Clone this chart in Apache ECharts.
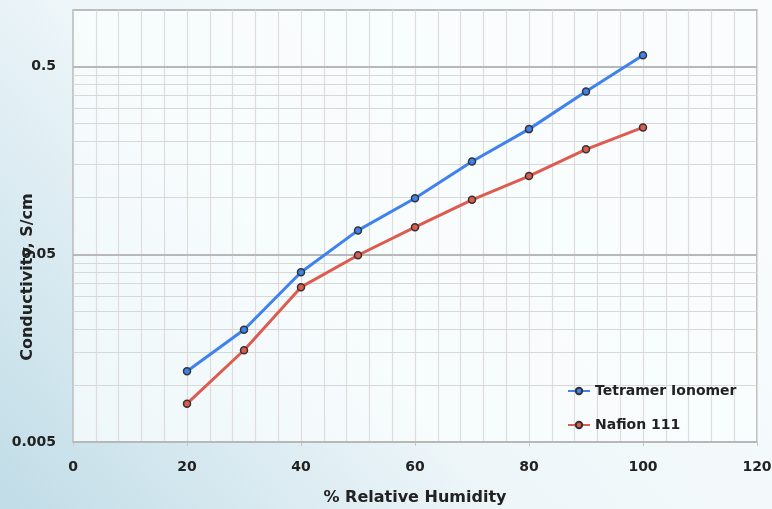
<!DOCTYPE html>
<html>
<head>
<meta charset="utf-8">
<style>
  html, body { margin: 0; padding: 0; }
  #chart { width: 772px; height: 509px; }
</style>
<script src="https://cdn.jsdelivr.net/npm/echarts@6/dist/echarts.min.js"></script>
</head>
<body>
<div id="chart"></div>
<script>
// values
var humidity = [20, 30, 40, 50, 60, 70, 80, 90, 100];
var tetramer = [0.0119, 0.0198, 0.0401, 0.067, 0.0993, 0.156, 0.232, 0.368, 0.574];
var nafion = [0.0080, 0.0154, 0.0334, 0.0494, 0.0697, 0.0975, 0.1305, 0.181, 0.237];
var majorY = [0.005, 0.05, 0.5];
var minorY = [0.01, 0.015, 0.02, 0.025, 0.03, 0.035, 0.04, 0.045,
              0.1, 0.15, 0.2, 0.25, 0.3, 0.35, 0.4, 0.45];

var font = '"DejaVu Sans", sans-serif';

function pairs(ys) {
  return humidity.map(function (x, i) { return [x, ys[i]]; });
}

var chart = echarts.init(document.getElementById('chart'));

var option = {
  backgroundColor: new echarts.graphic.LinearGradient(0.75, 0, 0, 1, [
    { offset: 0, color: '#f8fcfd' },
    { offset: 0.5, color: '#eef6f9' },
    { offset: 1, color: '#c0dce7' }
  ]),
  animation: false,
  grid: {
    left: 73, right: 15, top: 10, bottom: 67,
    outerBoundsMode: 'none',
    show: true,
    backgroundColor: 'rgba(250,253,254,0.75)',
    borderColor: '#a8a8a8',
    borderWidth: 1.5
  },
  legend: {
    orient: 'vertical',
    left: 562, top: 379,
    itemWidth: 22, itemHeight: 8,
    itemGap: 20,
    textStyle: { fontFamily: font, fontWeight: 'bold', fontSize: 14, color: '#222' },
    data: ['Tetramer Ionomer', 'Nafion 111']
  },
  graphic: [{
    type: 'text',
    x: 28, y: 277,
    rotation: Math.PI / 2,
    style: {
      text: 'Conductivity, S/cm',
      align: 'center', verticalAlign: 'middle',
      fontFamily: font, fontWeight: 'bold', fontSize: 16, fill: '#222'
    }
  }],
  xAxis: {
    type: 'value',
    min: 0, max: 120, interval: 20,
    name: '% Relative Humidity',
    nameLocation: 'middle',
    nameGap: 48,
    nameTextStyle: { fontFamily: font, fontWeight: 'bold', fontSize: 16, color: '#222' },
    axisLine: { show: true, lineStyle: { color: '#c8c8c8', width: 1.5 } },
    axisTick: { show: true, length: 4, inside: false, lineStyle: { color: '#c8c8c8' } },
    axisLabel: { margin: 18, fontFamily: font, fontWeight: 'bold', fontSize: 14, color: '#222' },
    splitLine: { show: true, lineStyle: { color: '#e0dcdc', width: 1.2 } },
    minorTick: { show: false, splitNumber: 5 },
    minorSplitLine: { show: true, lineStyle: { color: '#e0dcdc', width: 1.2 } }
  },
  yAxis: {
    type: 'log',
    logBase: 10,
    min: 0.005, max: 1,
    axisLine: { show: true, lineStyle: { color: '#c8c8c8', width: 1.5 } },
    axisTick: { show: false },
    axisLabel: { show: false },
    splitLine: { show: false }
  },
  series: [{
    name: 'Tetramer Ionomer',
    type: 'line',
    data: pairs(tetramer),
    symbol: 'circle',
    symbolSize: 7,
    z: 3,
    lineStyle: { color: '#3f81ef', width: 3 },
    itemStyle: { color: '#3f81ef', borderColor: '#333', borderWidth: 1.5 },
    markLine: {
      silent: true,
      z: 1,
      precision: 6,
      symbol: 'none',
      animation: false,
      label: { show: false },
      lineStyle: { color: '#d8d8d8', type: 'solid', width: 1.2 },
      data: minorY.map(function (v) { return { yAxis: v }; })
    }
  }, {
    name: 'Nafion 111',
    type: 'line',
    data: pairs(nafion),
    symbol: 'circle',
    symbolSize: 7,
    z: 3,
    lineStyle: { color: '#de5b50', width: 3 },
    itemStyle: { color: '#de5b50', borderColor: '#333', borderWidth: 1.5 },
    markLine: {
      silent: true,
      z: 1,
      precision: 6,
      symbol: 'none',
      animation: false,
      label: {
        show: true,
        position: 'start',
        distance: 17,
        formatter: function (p) { return String(p.value); },
        fontFamily: font, fontWeight: 'bold', fontSize: 14, color: '#222'
      },
      lineStyle: { color: '#b8b8b8', type: 'solid', width: 2 },
      data: majorY.map(function (v) { return { yAxis: v }; })
    }
  }]
};

chart.setOption(option);
</script>
</body>
</html>
